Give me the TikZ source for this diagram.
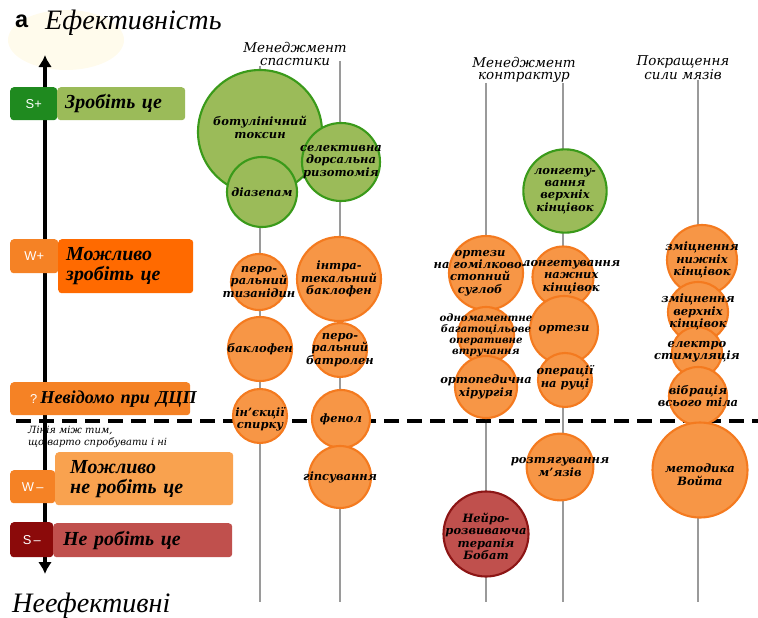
\documentclass[tikz,border=0pt]{standalone}
\usepackage{fontspec}
\setmainfont{Liberation Serif}
\setsansfont{Liberation Sans}
\newfontfamily\bubfont{DejaVu Serif}
\usetikzlibrary{arrows.meta}

\definecolor{grnfill}{HTML}{9BBB59}
\definecolor{grnline}{HTML}{3A9A1A}
\definecolor{grndark}{HTML}{1F8A1F}
\definecolor{orfill}{HTML}{F79646}
\definecolor{orline}{HTML}{F47A1F}
\definecolor{orbright}{HTML}{FF6A00}
\definecolor{orbadge}{HTML}{F58225}
\definecolor{orlight}{HTML}{F9A24F}
\definecolor{redfill}{HTML}{C0504D}
\definecolor{redline}{HTML}{8C1515}
\definecolor{reddark}{HTML}{8B0A0A}
\definecolor{colgray}{HTML}{9A9A9A}

\tikzset{
    bub/.style={circle, line width=1.8pt, inner sep=0pt},
    grnbub/.style={bub, draw=grnline, fill=grnfill},
    orbub/.style={bub, draw=orline, fill=orfill},
    redbub/.style={bub, draw=redline, fill=redfill},
    bubtext/.style={align=center, inner sep=0pt,
        font=\bubfont\bfseries\itshape\fontsize{9.8}{10.5}\selectfont},
    bubsmall/.style={bubtext, font=\bubfont\bfseries\itshape\fontsize{8.7}{9.4}\selectfont},
    colline/.style={colgray, line width=2.5pt},
    colhead/.style={align=center, font=\bubfont\itshape\fontsize{11.5}{10.8}\selectfont},
    badge/.style={anchor=north west, rounded corners=3pt, inner sep=0pt,
        text=white, font=\sffamily\fontsize{11}{12}\selectfont},
    lvlbox/.style={anchor=north west, rounded corners=3pt, inner ysep=0pt, align=left,
        font=\bfseries\itshape\fontsize{17}{17}\selectfont}
}

\begin{document}
\begin{tikzpicture}[x=0.03cm, y=-0.03cm]
    \useasboundingbox (0,0) rectangle (758,618);

    \fill[yellow!60!orange!7] (66,40) ellipse [x radius=58, y radius=30];

    %=== titles ===
    \node[anchor=base west, font=\sffamily\bfseries\fontsize{20}{20}\selectfont] (lettera) at (11,28) {а};
    \node[anchor=base west, font=\itshape\fontsize{24}{24}\selectfont, inner sep=0pt] (effect) at (45,30) {Ефективність};
    \node[anchor=base west, font=\itshape\fontsize{24}{24}\selectfont, inner sep=0pt] (ineffect) at (12,612) {Неефективні};

    %=== columns ===
    \coordinate (atop) at (260,66);  \coordinate (abot) at (260,602);
    \coordinate (btop) at (340,61);  \coordinate (bbot) at (340,602);
    \coordinate (ctop) at (486,83);  \coordinate (cbot) at (486,602);
    \coordinate (dtop) at (563,83);  \coordinate (dbot) at (563,602);
    \coordinate (etop) at (698,80);  \coordinate (ebot) at (698,602);
    \foreach \c in {a,b,c,d,e}
        \draw[colline] (\c top) -- (\c bot);

    \node[colhead] (spashead) at (295,54) {Менеджмент\\спастики};
    \node[colhead] (conthead) at (524,70) {Менеджмент\\контрактур};
    \node[colhead] (strhead) at (683,68) {Покращення\\сили мязів};

    %=== dividing line ===
    \coordinate (dashl) at (16,421);
    \coordinate (dashr) at (758,421);
    \draw[line width=3.5pt, dash pattern=on 0.45cm off 0.24cm] (dashl) -- (dashr);

    %=== axis ===
    \coordinate (axtop) at (45,55);
    \coordinate (axbot) at (45,574);
    \draw[line width=3.8pt, {Latex[length=0.36cm, width=0.42cm]}-{Latex[length=0.36cm, width=0.42cm]}] (axtop) -- (axbot);

    %=== levels ===
    \node[badge, fill=grndark, minimum width=1.41cm, minimum height=0.99cm] (splus) at (10,87) {S+};
    \node[lvlbox, fill=grnfill, minimum height=0.99cm, inner xsep=0.24cm, text width=3.36cm] (splusbox) at (57,87) {Зробіть це};

    \node[badge, fill=orbadge, minimum width=1.44cm, minimum height=1.02cm] (wplus) at (10,239) {W+};
    \node[lvlbox, fill=orbright, minimum height=1.62cm, inner xsep=0.24cm, text width=3.57cm] (wplusbox) at (58,239) {Можливо\\зробіть це};

    \node[lvlbox, fill=orbadge, minimum height=0.99cm, inner xsep=0.6cm, text width=4.2cm,
        font=\bfseries\itshape\fontsize{15.5}{16}\selectfont] (unkbox) at (10,382)
        {\mbox{{\sffamily\mdseries\upshape\fontsize{11}{12}\selectfont\color{white}?}\,Невідомо при ДЦП}};

    \node[anchor=north west, align=left, inner sep=0pt,
        font=\bubfont\itshape\fontsize{8.5}{10}\selectfont] (dashnote) at (28,426)
        {Лінія між тим,\\що варто спробувати і ні};

    \node[badge, fill=orbadge, minimum width=1.35cm, minimum height=0.99cm] (wminus) at (10,470) {W\,–};
    \node[lvlbox, fill=orlight, minimum height=1.59cm, inner xsep=0.45cm, text width=4.44cm] (wminusbox) at (55,452) {Можливо\\не робіть це};

    \node[badge, fill=reddark, minimum width=1.29cm, minimum height=1.05cm] (sminus) at (10,522) {S\,–};
    \node[lvlbox, fill=redfill, minimum height=1.02cm, inner xsep=0.3cm, text width=4.77cm] (sminusbox) at (53,523) {Не робіть це};

    %=== bubbles: name/x/y/diameter/kind ===
    \foreach \nm/\x/\y/\d/\kind in {
        botox/260/132/3.72/grnbub, diazepam/262/192/2.1/grnbub, sdr/341/162/2.34/grnbub,
        tizan/259/282/1.68/orbub, baclof/260/349/1.92/orbub, alcohol/260/416/1.62/orbub,
        itb/339/279/2.52/orbub, dantro/340/350/1.62/orbub, phenol/341/419/1.74/orbub,
        casting/340/477/1.86/orbub,
        afo/486/273/2.22/orbub, semls/486/335/1.68/orbub, orthsurg/486/387/1.86/orbub,
        bobath/486/534/2.55/redbub,
        ulsplint/565/191/2.5/grnbub, llsplint/563/277/1.83/orbub, orthoses/564/330/2.04/orbub,
        handsurg/565/380/1.62/orbub, stretch/560/467/2.0/orbub,
        llstr/702/260/2.1/orbub, ulstr/698/312/1.8/orbub, estim/697/352/1.5/orbub,
        vibr/698/396/1.74/orbub, vojta/700/470/2.85/orbub}
        \node[\kind, minimum size=\d cm] (\nm) at (\x,\y) {};

    %=== bubble texts: name/xshift/yshift/style/text ===
    \foreach \nm/\dx/\dy/\tf/\txt in {
        botox/0/4/bubtext/{ботулінічний\\токсин}, diazepam/0/0/bubtext/{діазепам},
        sdr/0/0/bubtext/{селективна\\дорсальна\\ризотомія},
        tizan/0/0/bubtext/{перо-\\ральний\\тизанідин}, baclof/0/0/bubtext/{баклофен},
        alcohol/0/-3/bubtext/{ін’єкції\\спирку},
        itb/0/0/bubtext/{інтра-\\текальний\\баклофен}, dantro/0/0/bubtext/{перо-\\ральний\\батролен},
        phenol/0/0/bubtext/{фенол}, casting/0/0/bubtext/{гіпсування},
        afo/-5/0/bubtext/{ортези\\на гомілково-\\стопний\\суглоб},
        semls/0/0/bubsmall/{одномаментне\\багатоцільове\\оперативне\\втручання},
        orthsurg/0/0/bubtext/{ортопедична\\хірургія},
        bobath/0/-2/bubtext/{Нейро-\\розвиваюча\\терапія\\Бобат},
        ulsplint/0/0/bubtext/{лонгету-\\вання\\верхніх\\кінцівок},
        llsplint/7/0/bubtext/{лонгетування\\нажних\\кінцівок},
        orthoses/0/0/bubtext/{ортези}, handsurg/0/2/bubtext/{операції\\на руці},
        stretch/0/0/bubtext/{розтягування\\м’язів},
        llstr/0/0/bubtext/{зміцнення\\нижніх\\кінцівок}, ulstr/0/0/bubtext/{зміцнення\\верхніх\\кінцівок},
        estim/0/0/bubtext/{електро\\стимуляція}, vibr/0/0/bubtext/{вібрація\\всього тіла},
        vojta/0/-4/bubtext/{методика\\Войта}}
        \node[\tf] (\nm txt) at ([xshift=\dx pt, yshift=\dy pt]\nm) {\txt};
\end{tikzpicture}
\end{document}
